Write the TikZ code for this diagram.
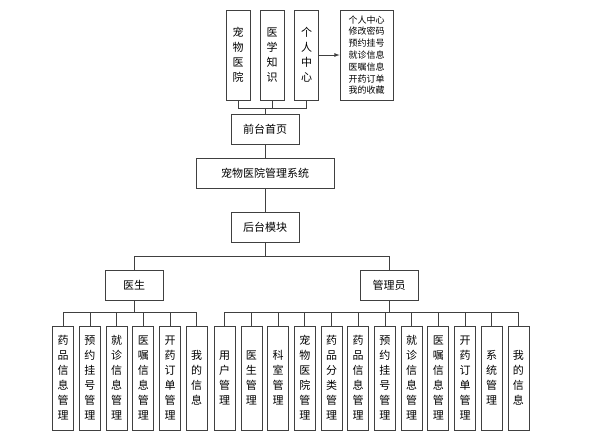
\documentclass[tikz,border=0pt]{standalone}
\usepackage{fontspec}
\setmainfont{Noto Sans CJK SC}
\begin{document}
\begin{tikzpicture}[x=1pt,y=-1pt,
    box/.style={draw=black!75,thick,fill=white,inner sep=0pt,align=center,font=\fontsize{11}{15}\selectfont},
    leaf/.style={box,minimum width=21pt,minimum height=104pt},
    link/.style={draw=black!75,thick}]
    \useasboundingbox (0,0) rectangle (600,440);
    % top part
    \node[leaf,minimum width=24pt,minimum height=90pt] (pet) at (238,55) {宠\\物\\医\\院};
    \node[leaf,minimum width=24pt,minimum height=90pt] (know) at (272,55) {医\\学\\知\\识};
    \node[leaf,minimum width=24pt,minimum height=90pt] (user) at (306.5,55) {个\\人\\中\\心};
    \node[box,minimum width=53pt,minimum height=90pt,font=\fontsize{9}{11.8}\selectfont] (menu) at (366.5,55) {个人中心\\修改密码\\预约挂号\\就诊信息\\医嘱信息\\开药订单\\我的收藏};
    \node[box,minimum width=68pt,minimum height=30pt] (home) at (265,129) {前台首页};
    \node[box,minimum width=138pt,minimum height=30pt] (sys) at (265,173) {宠物医院管理系统};
    \node[box,minimum width=68pt,minimum height=30pt] (back) at (265,227) {后台模块};
    \node[box,minimum width=58pt,minimum height=30pt] (doc) at (134,285) {医生};
    \node[box,minimum width=58pt,minimum height=30pt] (adm) at (389,285) {管理员};
    \coordinate (busA) at (265,108);
    \coordinate (busB) at (265,256);
    \coordinate (busD) at (134,312);
    \coordinate (busM) at (389,312);
    \draw[link] (pet.south) |- (busA);
    \draw[link] (user.south) |- (busA);
    \draw[link] (know.south) -- (know.south |- busA);
    \draw[link] (busA) -- (home.north);
    \draw[link,-latex] (user.east) -- (menu.west);
    \draw[link] (home) -- (sys);
    \draw[link] (sys) -- (back);
    \draw[link] (back.south) -- (busB);
    \draw[link] (busB) -| (doc.north);
    \draw[link] (busB) -| (adm.north);
    \draw[link] (doc.south) -- (busD);
    \draw[link] (adm.south) -- (busM);
    % doctor leaves
    \foreach \t [count=\i] in {药\\品\\信\\息\\管\\理, 预\\约\\挂\\号\\管\\理, 就\\诊\\信\\息\\管\\理,
        医\\嘱\\信\\息\\管\\理, 开\\药\\订\\单\\管\\理, 我\\的\\信\\息} {
        \node[leaf] (d\i) at ({36.5+26.7*\i},378) {\t};
        \draw[link] (d\i.north) |- (busD);
    }
    % admin leaves
    \foreach \t [count=\i] in {用\\户\\管\\理, 医\\生\\管\\理, 科\\室\\管\\理, 宠\\物\\医\\院\\管\\理,
        药\\品\\分\\类\\管\\理, 药\\品\\信\\息\\管\\理, 预\\约\\挂\\号\\管\\理, 就\\诊\\信\\息\\管\\理,
        医\\嘱\\信\\息\\管\\理, 开\\药\\订\\单\\管\\理, 系\\统\\管\\理, 我\\的\\信\\息} {
        \node[leaf] (m\i) at ({198+26.7*\i},378) {\t};
        \draw[link] (m\i.north) |- (busM);
    }
\end{tikzpicture}
\end{document}
